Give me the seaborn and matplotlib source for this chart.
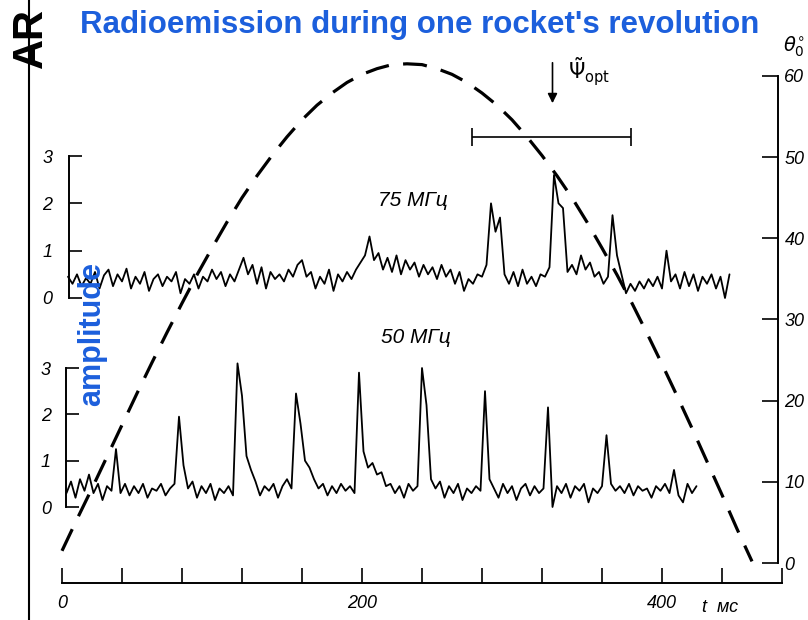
import numpy as np
import pandas as pd
import matplotlib
matplotlib.use("Agg")
import matplotlib.pyplot as plt
from matplotlib.lines import Line2D
import matplotlib.transforms as mtransforms
import seaborn as sns

# ---------------- data ----------------
# dashed curve: aspect angle theta_0 (deg) vs time t (ms)
theta_t = [0, 10, 20, 30, 40, 50, 60, 70, 80, 90, 100, 110, 120, 130, 140, 150,
           160, 170, 180, 190, 200, 210, 220, 230, 240, 250, 260, 270, 280, 290,
           300, 310, 320, 330, 340, 350, 360, 370, 380, 390, 400, 410, 420, 430,
           440, 450, 460]
theta_val = [1.5, 5.4, 9.2, 13.1, 17.0, 20.9, 24.7, 28.4, 32.0, 35.5, 38.8, 42.0,
             45.0, 47.7, 50.2, 52.5, 54.6, 56.4, 57.9, 59.2, 60.2, 60.9, 61.4, 61.5,
             61.4, 60.9, 60.2, 59.2, 57.9, 56.4, 54.6, 52.5, 50.2, 47.7, 45.0, 42.0,
             38.8, 35.5, 32.0, 28.3, 24.5, 20.6, 16.6, 12.5, 8.4, 4.2, 0.2]

# 75 MHz trace: sampled every 3 ms starting at 4 ms
t75_start, t75_step = 4, 3
amp75 = [0.45, 0.3, 0.5, 0.25, 0.42, 0.3, 0.55, 0.2, 0.48, 0.6,
         0.25, 0.5, 0.35, 0.62, 0.2, 0.45, 0.3, 0.55, 0.15, 0.4,
         0.5, 0.25, 0.45, 0.35, 0.55, 0.1, 0.4, 0.3, 0.5, 0.2,
         0.45, 0.35, 0.6, 0.4, 0.55, 0.25, 0.5, 0.35, 0.6, 0.85,
         0.5, 0.7, 0.3, 0.65, 0.2, 0.55, 0.4, 0.5, 0.35, 0.6,
         0.45, 0.7, 0.8, 0.45, 0.55, 0.2, 0.45, 0.3, 0.6, 0.15,
         0.5, 0.35, 0.55, 0.4, 0.6, 0.75, 0.9, 1.3, 0.8, 0.95,
         0.6, 0.85, 0.55, 0.9, 0.5, 0.8, 0.6, 0.75, 0.45, 0.7,
         0.5, 0.65, 0.4, 0.7, 0.45, 0.6, 0.3, 0.55, 0.15, 0.4,
         0.3, 0.5, 0.45, 0.7, 2.0, 1.4, 1.7, 0.5, 0.3, 0.55,
         0.25, 0.6, 0.3, 0.45, 0.25, 0.5, 0.45, 0.65, 2.6, 2.0,
         1.9, 0.55, 0.7, 0.5, 0.9, 0.6, 0.75, 0.45, 0.55, 0.3,
         0.45, 1.75, 0.9, 0.5, 0.1, 0.3, 0.15, 0.35, 0.2, 0.4,
         0.25, 0.45, 0.2, 1.0, 0.35, 0.5, 0.2, 0.55, 0.25, 0.5,
         0.15, 0.45, 0.3, 0.5, 0.2, 0.45, 0.0, 0.5]

# 50 MHz trace: sampled every 3 ms starting at 3 ms
t50_start, t50_step = 3, 3
amp50 = [0.3, 0.55, 0.2, 0.6, 0.35, 0.7, 0.3, 0.5, 0.15, 0.45,
         0.35, 1.25, 0.3, 0.5, 0.25, 0.45, 0.3, 0.5, 0.2, 0.4,
         0.35, 0.5, 0.25, 0.4, 0.5, 1.95, 0.9, 0.4, 0.55, 0.2,
         0.45, 0.3, 0.5, 0.15, 0.4, 0.3, 0.45, 0.25, 3.1, 2.4,
         1.1, 0.8, 0.55, 0.25, 0.45, 0.35, 0.5, 0.2, 0.45, 0.6,
         0.4, 2.45, 1.8, 1.0, 0.85, 0.6, 0.4, 0.5, 0.25, 0.45,
         0.3, 0.5, 0.35, 0.45, 0.3, 2.9, 1.2, 0.85, 0.95, 0.7,
         0.75, 0.45, 0.5, 0.3, 0.45, 0.2, 0.5, 0.35, 0.45, 3.0,
         2.2, 0.6, 0.4, 0.55, 0.2, 0.45, 0.3, 0.5, 0.15, 0.4,
         0.3, 0.45, 0.35, 2.5, 0.6, 0.4, 0.2, 0.5, 0.3, 0.45,
         0.15, 0.4, 0.5, 0.25, 0.45, 0.3, 0.4, 2.15, 0.0, 0.45,
         0.3, 0.5, 0.2, 0.45, 0.35, 0.5, 0.1, 0.4, 0.3, 0.45,
         1.55, 0.5, 0.35, 0.45, 0.3, 0.5, 0.25, 0.45, 0.35, 0.4,
         0.2, 0.45, 0.35, 0.5, 0.3, 0.8, 0.25, 0.1, 0.5, 0.3,
         0.45]

# optimal aspect marker
psi_opt_t = 327
psi_interval = [273, 379]
psi_level = 52.5

time_ticks = [0, 40, 80, 120, 160, 200, 240, 280, 320, 360, 400, 440, 480]
time_labels = ["0", "", "", "", "", "200", "", "", "", "", "400", "", ""]
theta_ticks = [0, 10, 20, 30, 40, 50, 60]
amp_ticks = [0, 1, 2, 3]

title_text = "Radioemission during one rocket's revolution"
ylabel_text = "amplitude"
label75 = "75 МГц"
label50 = "50 МГц"

# ---------------- styling ----------------
sns.set_theme(style="white")
plt.rcParams["font.family"] = ["Liberation Sans", "DejaVu Sans"]
plt.rcParams["axes.linewidth"] = 1.4
plt.rcParams["text.color"] = "black"
plt.rcParams["xtick.color"] = "black"
plt.rcParams["ytick.color"] = "black"
BLUE = "#1c5fdc"

W, H = 808, 620
def fx(px):
    return px / W
def fy(py):
    return 1 - py / H

fig = plt.figure(figsize=(8.08, 6.20), dpi=100)
fig.patch.set_facecolor("white")

# ---- main axes: time axis + theta axis + dashed curve ----
def theta_at(py):
    return (563 - py) / 8.117

ax = fig.add_axes([fx(62), fy(583), fx(782) - fx(62), fy(50) - fy(583)])
ax.set_facecolor("none")
ax.set_xlim(0, 480)
ax.set_ylim(theta_at(583), theta_at(50))

df_theta = pd.DataFrame({"t": theta_t, "theta": theta_val})
sns.lineplot(data=df_theta, x="t", y="theta", ax=ax, color="black", lw=2.3)
ax.lines[-1].set_dashes((7.5, 4.5))
ax.lines[-1].set_clip_on(False)

for s in ["left", "top"]:
    ax.spines[s].set_visible(False)
ax.spines["right"].set_position(("data", 477))
ax.spines["right"].set_bounds(0, 60)
ax.spines["bottom"].set_bounds(0, 480)
for s in ["right", "bottom"]:
    ax.spines[s].set_color("black")
    ax.spines[s].set_linewidth(1.4)

ax.set_xticks(time_ticks, labels=time_labels)
ax.yaxis.tick_right()
ax.set_yticks(theta_ticks, labels=[str(v) for v in theta_ticks])
ax.tick_params(axis="x", direction="in", length=11, width=1.2, pad=9,
               labelsize=13, colors="black", bottom=True)
ax.tick_params(axis="y", direction="in", length=11.5, width=1.2, pad=5,
               labelsize=13, colors="black", right=True, left=False)
for lab in ax.get_xticklabels() + ax.get_yticklabels():
    lab.set_fontstyle("italic")
ax.set_xlabel("")
ax.set_ylabel("")

trans_xd_ya = mtransforms.blended_transform_factory(ax.transData, ax.transAxes)
ax.text(427, -0.046, "t  мс", transform=trans_xd_ya, ha="left", va="center",
        fontsize=13, fontstyle="italic")
fig.text(fx(783), fy(47), r"$\theta_0^{\circ}$", ha="left", va="center", fontsize=14)

# psi_opt arrow and interval
ax.annotate("", xy=(psi_opt_t, theta_at(106)), xytext=(psi_opt_t, theta_at(60)),
            arrowprops=dict(arrowstyle="-|>", color="black", lw=1.2,
                            mutation_scale=14))
ax.text(psi_opt_t + 10, theta_at(72), r"$\tilde{\Psi}_{\rm opt}$", ha="left",
        va="center", fontsize=15)
ax.errorbar([(psi_interval[0] + psi_interval[1]) / 2], [psi_level],
            xerr=[(psi_interval[1] - psi_interval[0]) / 2], fmt="none",
            ecolor="black", elinewidth=1.2, capsize=6.5, capthick=1.2)

ax.text(234, theta_at(201), label75, ha="center", va="center", fontsize=15,
        fontstyle="italic")
ax.text(236, theta_at(338), label50, ha="center", va="center", fontsize=15,
        fontstyle="italic")

# ---- trace axes ----
def make_trace_axes(py_top, py_bot, py_zero, px_per_unit, spine_t, pad):
    a = fig.add_axes([fx(62), fy(py_bot), fx(782) - fx(62), fy(py_top) - fy(py_bot)])
    a.set_facecolor("none")
    a.set_xlim(0, 480)
    a.set_ylim((py_zero - py_bot) / px_per_unit, (py_zero - py_top) / px_per_unit)
    for s in ["top", "right", "bottom"]:
        a.spines[s].set_visible(False)
    a.spines["left"].set_position(("data", spine_t))
    a.spines["left"].set_bounds(0, 3)
    a.spines["left"].set_color("black")
    a.spines["left"].set_linewidth(1.4)
    a.set_xticks([])
    a.set_yticks(amp_ticks, labels=[str(v) for v in amp_ticks])
    a.tick_params(axis="y", direction="in", length=9.5, width=1.2, pad=pad,
                  labelsize=13, colors="black", left=True)
    for lab in a.get_yticklabels():
        lab.set_fontstyle("italic")
    return a

ax75 = make_trace_axes(140, 330, 298, 47.33, 4.7, 12)
t75 = t75_start + t75_step * np.arange(len(amp75))
sns.lineplot(x=t75, y=amp75, ax=ax75, color="black", lw=1.3)

ax50 = make_trace_axes(350, 540, 507, 46.33, 2.8, 11)
t50 = t50_start + t50_step * np.arange(len(amp50))
sns.lineplot(x=t50, y=amp50, ax=ax50, color="black", lw=1.3)
for a in (ax75, ax50):
    a.set_xlabel("")
    a.set_ylabel("")

# ---- slide decorations ----
fig.text(fx(420), fy(25), title_text, ha="center", va="center", fontsize=22.5,
         fontweight="bold", color=BLUE)
fig.text(fx(92), fy(334), ylabel_text, rotation=90, ha="center", va="center",
         fontsize=22, fontweight="bold", color=BLUE)
fig.add_artist(Line2D([fx(29), fx(29)], [0, 1], color="black", lw=1.5))
fig.text(fx(31), fy(68), "AR", rotation=90, ha="center", va="bottom",
         fontsize=30, fontweight="bold", color="black")

fig.savefig("out.png", dpi=100, facecolor="white")
